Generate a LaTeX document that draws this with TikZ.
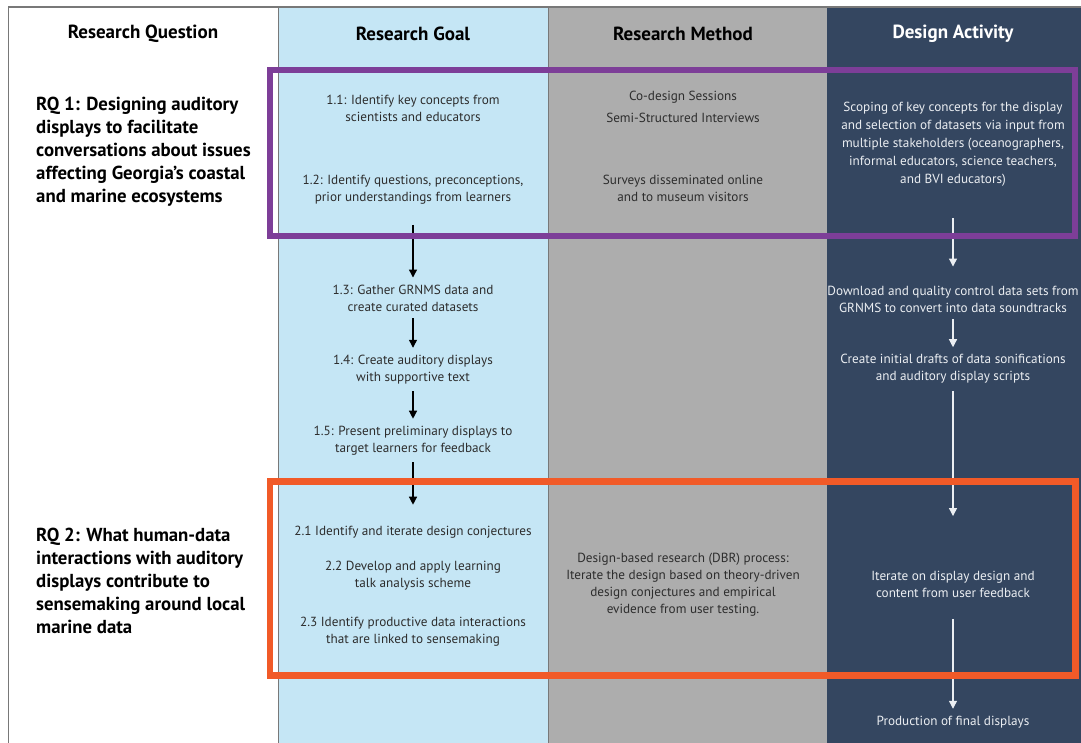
\documentclass[tikz,border=0pt]{standalone}
\usepackage{fontspec}
\setmainfont{PT Sans}
\usetikzlibrary{arrows.meta}
\definecolor{colblue}{RGB}{197,230,245}
\definecolor{colgray}{RGB}{173,173,173}
\definecolor{colnavy}{RGB}{52,70,96}
\definecolor{colpurple}{RGB}{125,62,152}
\definecolor{colorange}{RGB}{241,90,40}
\definecolor{framegray}{RGB}{120,120,120}
\definecolor{textdark}{RGB}{45,45,45}
\definecolor{textlight}{RGB}{235,238,242}
\tikzset{
  hdr/.style={font=\bfseries\fontsize{19}{22}\selectfont, text=black, inner sep=0pt},
  rq/.style={font=\bfseries\fontsize{18.8}{23}\selectfont, text=black, align=left, anchor=west, inner sep=0pt},
  body/.style={font=\fontsize{13.2}{17}\selectfont, text=textdark, align=center, inner xsep=0pt, inner ysep=7pt},
  lbody/.style={body, text=textlight},
  arr/.style={line width=1.3pt, -{Triangle[length=8pt,width=8pt]}},
  warr/.style={arr, line width=1.2pt, draw=textlight},
  hlbox/.style={line width=6.5pt},
}
\begin{document}
\begin{tikzpicture}[x=1pt,y=-1pt]
\useasboundingbox (0,0) rectangle (1081,743);
\fill[white] (0,0) rectangle (1081,743);
% columns
\fill[colblue] (278,7) rectangle (548,743);
\fill[colgray] (548,7) rectangle (827,743);
\fill[colnavy] (827,7) rectangle (1081,743);
\draw[framegray, line width=1.3pt] (8.5,743) -- (8.5,7) -- (1081,7);
\draw[framegray, line width=1pt] (278,7) -- (278,743);
\draw[framegray, line width=1pt] (548,7) -- (548,743);

% headers
\node[hdr] (h1) at (143,33.5) {Research Question};
\node[hdr] (h2) at (413,33.5) {Research Goal};
\node[hdr] (h3) at (683,33.5) {Research Method};
\node[hdr, text=white] (h4) at (953,33.5) {Design Activity};

% research questions
\node[rq] (rq1) at (36,152) {RQ 1: Designing auditory\\displays to facilitate\\conversations about issues\\affecting Georgia’s coastal\\and marine ecosystems};
\node[rq] (rq2) at (36,581) {RQ 2: What human-data\\interactions with auditory\\displays contribute to\\sensemaking around local\\marine data};

% research goals
\node[body] (g11) at (413,108.5) {1.1: Identify key concepts from\\scientists and educators};
\node[body] (g12) at (413,189.5) {1.2: Identify questions, preconceptions,\\prior understandings from learners};
\node[body] (g13) at (413,298) {1.3: Gather GRNMS data and\\create curated datasets};
\node[body] (g14) at (413,369.5) {1.4: Create auditory displays\\with supportive text};
\node[body] (g15) at (413,440.5) {1.5: Present preliminary displays to\\target learners for feedback};
\node[body] (g21) at (413,532) {2.1 Identify and iterate design conjectures};
\node[body] (g22) at (413,575.5) {2.2 Develop and apply learning\\talk analysis scheme};
\node[body] (g23) at (413,631.5) {2.3 Identify productive data interactions\\that are linked to sensemaking};

% research methods
\node[body] (m1) at (683,97) {Co-design Sessions};
\node[body] (m2) at (683,118) {Semi-Structured Interviews};
\node[body] (m3) at (683,188.5) {Surveys disseminated online\\and to museum visitors};
\node[body] (m4) at (683,584.5) {Design-based research (DBR) process:\\Iterate the design based on theory-driven\\design conjectures and empirical\\evidence from user testing.};

% design activities
\node[lbody, font=\fontsize{13.2}{18}\selectfont] (d1) at (953,144.5) {Scoping of key concepts for the display\\and selection of datasets via input from\\multiple stakeholders (oceanographers,\\informal educators, science teachers,\\and BVI educators)};
\node[lbody] (d2) at (953,299) {Download and quality control data sets from\\GRNMS to convert into data soundtracks};
\node[lbody] (d3) at (953,369) {Create initial drafts of data sonifications\\and auditory display scripts};
\node[lbody] (d4) at (953,584.5) {Iterate on display design and\\content from user feedback};
\node[lbody] (d5) at (953,722) {Production of final displays};

% connectors
\coordinate (gstart) at (413,225);
\coordinate (dstart) at (953,218);
\draw[arr] (gstart) -- (g13);
\draw[arr] (g13) -- (g14);
\draw[arr] (g14) -- (g15);
\draw[arr, shorten >=14pt] (g15) -- (g21);
\draw[warr, shorten >=12pt] (dstart) -- (d2);
\draw[warr] (d2) -- (d3);
\draw[warr, shorten >=48pt] (d3) -- (d4);
\draw[warr, shorten <=14pt] (d4) -- (d5);

% highlight boxes
\draw[hlbox, colpurple] (270,70) rectangle (1075,236);
\draw[hlbox, colorange] (270,481.5) rectangle (1075.5,675.5);
\end{tikzpicture}
\end{document}
